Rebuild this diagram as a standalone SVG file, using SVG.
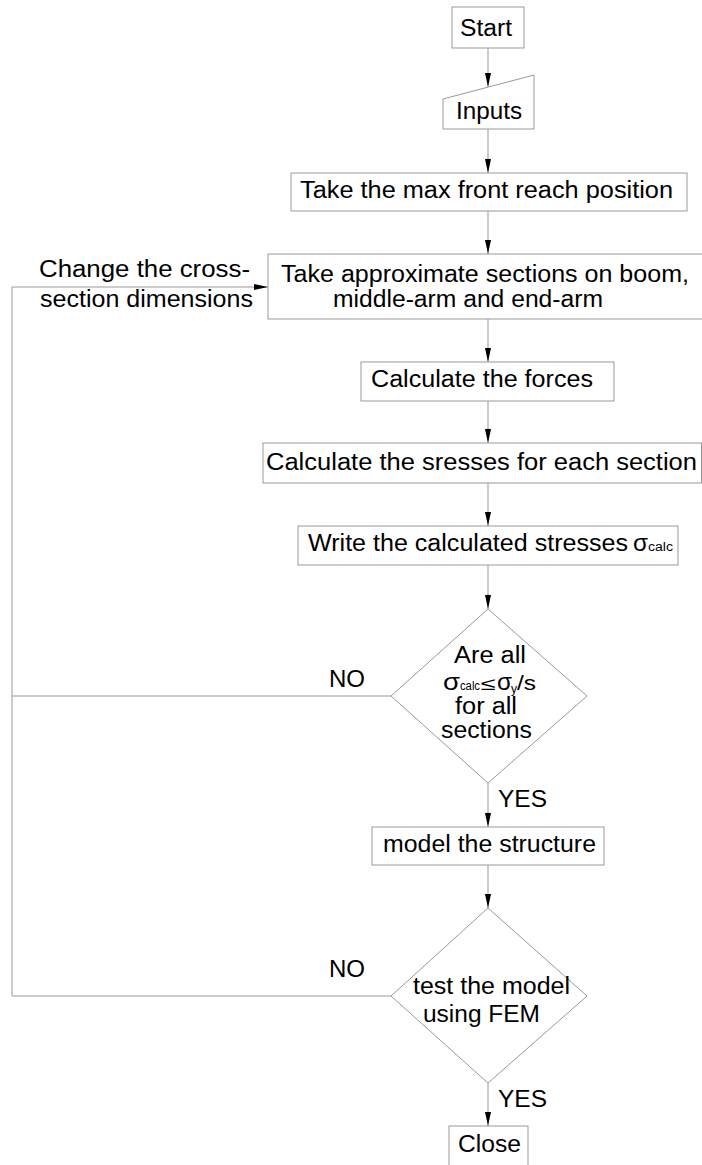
<svg xmlns="http://www.w3.org/2000/svg" width="702" height="1165" viewBox="0 0 702 1165">
<defs>
<style>
.box{fill:#fff;stroke:#999;stroke-width:1}
.ln{fill:none;stroke:#999;stroke-width:1}
.t{font-family:"Liberation Sans",Arial,sans-serif;font-size:23px;fill:#000}
.s{font-family:"Liberation Sans",Arial,sans-serif;font-size:12px;fill:#000}
.g{font-family:"Liberation Sans",Arial,sans-serif;font-size:23px;fill:#000}
</style>
<marker id="arr" viewBox="0 0 14 6" refX="14" refY="3" markerWidth="14" markerHeight="6" orient="auto" markerUnits="userSpaceOnUse">
<path d="M0,0 L14,3 L0,6 z" fill="#000"/>
</marker>
</defs>
<rect width="702" height="1165" fill="#fff"/>
<g id="connectors">
<line class="ln" x1="488" y1="48" x2="488" y2="87" marker-end="url(#arr)"/>
<line class="ln" x1="488" y1="129" x2="488" y2="173" marker-end="url(#arr)"/>
<line class="ln" x1="488" y1="211" x2="488" y2="254" marker-end="url(#arr)"/>
<line class="ln" x1="488" y1="319" x2="488" y2="362" marker-end="url(#arr)"/>
<line class="ln" x1="488" y1="401" x2="488" y2="443" marker-end="url(#arr)"/>
<line class="ln" x1="488" y1="483" x2="488" y2="526" marker-end="url(#arr)"/>
<line class="ln" x1="488" y1="565" x2="488" y2="609" marker-end="url(#arr)"/>
<line class="ln" x1="488" y1="783" x2="488" y2="827" marker-end="url(#arr)"/>
<line class="ln" x1="488" y1="865" x2="488" y2="908" marker-end="url(#arr)"/>
<line class="ln" x1="488" y1="1083" x2="488" y2="1126" marker-end="url(#arr)"/>
<polyline class="ln" points="391,696 12,696 12,287 268,287" marker-end="url(#arr)"/>
<polyline class="ln" points="391,996 12,996 12,696"/>
<text class="t" x="329" y="687" textLength="36" lengthAdjust="spacingAndGlyphs">NO</text>
<text class="t" x="498" y="807" textLength="49" lengthAdjust="spacingAndGlyphs">YES</text>
<text class="t" x="329" y="977" textLength="36" lengthAdjust="spacingAndGlyphs">NO</text>
<text class="t" x="498" y="1107" textLength="49" lengthAdjust="spacingAndGlyphs">YES</text>
<text class="t" x="39" y="277" textLength="211" lengthAdjust="spacingAndGlyphs">Change the cross-</text>
<text class="t" x="40" y="307" textLength="213" lengthAdjust="spacingAndGlyphs">section dimensions</text>
</g>
<g id="start">
<rect class="box" x="452" y="7" width="72" height="41"/>
<text class="t" x="460" y="36" textLength="52" lengthAdjust="spacingAndGlyphs">Start</text>
</g>
<g id="inputs">
<polygon class="box" points="443,99 534,75 534,129 443,129"/>
<text class="t" x="456" y="119" textLength="66" lengthAdjust="spacingAndGlyphs">Inputs</text>
</g>
<g id="maxreach">
<rect class="box" x="291" y="173" width="396" height="38"/>
<text class="t" x="300" y="198" textLength="373" lengthAdjust="spacingAndGlyphs">Take the max front reach position</text>
</g>
<g id="sections">
<rect class="box" x="268" y="254" width="450" height="65"/>
<text class="t" x="281" y="282" textLength="408" lengthAdjust="spacingAndGlyphs">Take approximate sections on boom,</text>
<text class="t" x="333" y="307" textLength="270" lengthAdjust="spacingAndGlyphs">middle-arm and end-arm</text>
</g>
<g id="forces">
<rect class="box" x="361" y="362" width="253" height="39"/>
<text class="t" x="371" y="387" textLength="222" lengthAdjust="spacingAndGlyphs">Calculate the forces</text>
</g>
<g id="stresses">
<rect class="box" x="263" y="443" width="438.5" height="40"/>
<text class="t" x="266" y="470" textLength="431" lengthAdjust="spacingAndGlyphs">Calculate the sresses for each section</text>
</g>
<g id="write">
<rect class="box" x="298" y="526" width="380" height="39"/>
<text class="t" x="308" y="551" textLength="320" lengthAdjust="spacingAndGlyphs">Write the calculated stresses</text>
<text class="g" x="633" y="551" textLength="15" lengthAdjust="spacingAndGlyphs">σ</text>
<text class="s" x="648" y="551" textLength="25" lengthAdjust="spacingAndGlyphs">calc</text>
</g>
<g id="check1">
<polygon class="box" points="488,609 587,696 488,783 391,696"/>
<text class="t" x="454" y="663" textLength="72" lengthAdjust="spacingAndGlyphs">Are all</text>
<text class="g" x="443" y="690" textLength="17" lengthAdjust="spacingAndGlyphs">σ</text>
<text class="s" x="460" y="690" textLength="20" lengthAdjust="spacingAndGlyphs">calc</text>
<text class="s" x="481" y="690" style="font-size:18px" textLength="15" lengthAdjust="spacingAndGlyphs">≤</text>
<text class="g" x="497" y="690" textLength="15" lengthAdjust="spacingAndGlyphs">σ</text>
<text class="s" x="511" y="693">y</text>
<text class="s" x="517" y="690" style="font-size:20px" textLength="19" lengthAdjust="spacingAndGlyphs">/s</text>
<text class="t" x="455" y="714" textLength="62" lengthAdjust="spacingAndGlyphs">for all</text>
<text class="t" x="441" y="738" textLength="91" lengthAdjust="spacingAndGlyphs">sections</text>
</g>
<g id="model">
<rect class="box" x="372" y="827" width="232" height="38"/>
<text class="t" x="383" y="852" textLength="213" lengthAdjust="spacingAndGlyphs">model the structure</text>
</g>
<g id="check2">
<polygon class="box" points="488,908 587,996 488,1083 391,996"/>
<text class="t" x="413" y="994" textLength="157" lengthAdjust="spacingAndGlyphs">test the model</text>
<text class="t" x="423" y="1022" textLength="117" lengthAdjust="spacingAndGlyphs">using FEM</text>
</g>
<g id="close">
<rect class="box" x="449" y="1126" width="79" height="60"/>
<text class="t" x="458" y="1152" textLength="63" lengthAdjust="spacingAndGlyphs">Close</text>
</g>
</svg>
